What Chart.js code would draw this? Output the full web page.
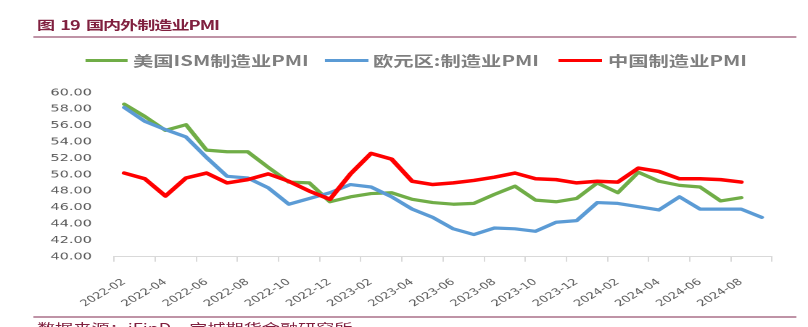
<!DOCTYPE html>
<html lang="zh-CN">
<head>
<meta charset="utf-8">
<title>国内外制造业PMI</title>
<script src="https://cdn.jsdelivr.net/npm/chart.js@4.4.1/dist/chart.umd.min.js"></script>
<style>
  html, body { margin: 0; padding: 0; background: #fff; overflow: hidden; }
  body { width: 808px; height: 327px; position: relative; }
  /* the figure is laid out narrow and widened to the full page width */
  #page { position: absolute; left: 0; top: 0; width: 557px; height: 327px;
          transform: scaleX(1.4506); transform-origin: 0 0; }
  .title { position: absolute; left: 25.5px; top: 16.5px; font: bold 12.5px "Noto Sans CJK SC", sans-serif;
           color: #80203f; letter-spacing: -0.7px; white-space: pre; line-height: 15px; }
  .rule { position: absolute; left: 22.7px; width: 526.7px; height: 2px; background: #bf93a6; }
  .legend { position: absolute; top: 52px; left: 0; width: 557px; height: 16px;
            font: bold 14px "Noto Sans CJK SC", sans-serif; color: #7f7f7f; }
  .legend .swatch { position: absolute; top: 6.5px; height: 3px; }
  .legend .text { position: absolute; top: 0; line-height: 16px; white-space: nowrap; }
  .source { position: absolute; left: 25.5px; top: 321px; font: 12.5px "Noto Sans CJK SC", sans-serif;
            color: #80203f; line-height: 14px; white-space: nowrap; }
  #pmiChart { position: absolute; left: 0; top: 80px; width: 557px; height: 235px; }
</style>
</head>
<body>
<div id="page">
  <div class="title">图  19  国内外制造业PMI</div>
  <div class="rule" style="top:36px"></div>

  <div class="legend">
    <div class="swatch" style="left:59.3px;width:28.9px;background:#70ad47"></div>
    <div class="text" style="left:91.7px">美国ISM制造业PMI</div>
    <div class="swatch" style="left:224px;width:29.7px;background:#5b9bd5"></div>
    <div class="text" style="left:257.1px">欧元区:制造业PMI</div>
    <div class="swatch" style="left:384.7px;width:30.3px;background:#ff0000"></div>
    <div class="text" style="left:419.1px">中国制造业PMI</div>
  </div>

  <canvas id="pmiChart" width="557" height="235"></canvas>

  <div class="rule" style="top:315.5px"></div>
  <div class="source">数据来源：iFinD，宝城期货金融研究所</div>
</div>

<script>
// monthly categories
const months = [
    '2022-02', '2022-03', '2022-04', '2022-05', '2022-06', '2022-07', '2022-08', '2022-09',
    '2022-10', '2022-11', '2022-12', '2023-01', '2023-02', '2023-03', '2023-04', '2023-05',
    '2023-06', '2023-07', '2023-08', '2023-09', '2023-10', '2023-11', '2023-12', '2024-01',
    '2024-02', '2024-03', '2024-04', '2024-05', '2024-06', '2024-07', '2024-08', '2024-09'
];

// 美国ISM制造业PMI
const usIsm = [
    58.6, 57.1, 55.4, 56.1, 53.0, 52.8, 52.8, 50.9, 49.1, 49.0, 46.7, 47.3, 47.7, 47.8, 47.0, 46.6,
    46.4, 46.5, 47.6, 48.6, 46.9, 46.7, 47.1, 49.0, 47.8, 50.3, 49.2, 48.7, 48.5, 46.8, 47.2
];

// 欧元区:制造业PMI
const euroPmi = [
    58.2, 56.5, 55.5, 54.6, 52.1, 49.8, 49.6, 48.4, 46.4, 47.1, 47.8, 48.8, 48.5, 47.3, 45.8, 44.8,
    43.4, 42.7, 43.5, 43.4, 43.1, 44.2, 44.4, 46.6, 46.5, 46.1, 45.7, 47.3, 45.8, 45.8, 45.8, 44.8
];

// 中国制造业PMI
const chinaPmi = [
    50.2, 49.5, 47.4, 49.6, 50.2, 49.0, 49.4, 50.1, 49.2, 48.0, 47.0, 50.1, 52.6, 51.9, 49.2, 48.8,
    49.0, 49.3, 49.7, 50.2, 49.5, 49.4, 49.0, 49.2, 49.1, 50.8, 50.4, 49.5, 49.5, 49.4, 49.1
];

const yMin = 40;
const yMax = 60;
const yStep = 2;

new Chart(document.getElementById('pmiChart'), {
    type: 'line',
    data: {
        labels: months,
        datasets: [
            { label: '美国ISM制造业PMI', data: usIsm, borderColor: '#70ad47', borderWidth: 3.2, order: 3 },
            { label: '欧元区:制造业PMI', data: euroPmi, borderColor: '#5b9bd5', borderWidth: 3.2, order: 2 },
            { label: '中国制造业PMI', data: chinaPmi, borderColor: '#ff0000', borderWidth: 3.5, order: 1 }
        ]
    },
    options: {
        responsive: false,
        animation: false,
        devicePixelRatio: 2,
        layout: { padding: { left: 0, right: 24.8, top: 12.7, bottom: 0 } },
        elements: {
            point: { radius: 0 },
            line: { tension: 0, fill: false, borderJoinStyle: 'round', borderCapStyle: 'round' }
        },
        plugins: {
            legend: { display: false },
            tooltip: { enabled: false }
        },
        scales: {
            x: {
                offset: true,
                grid: {
                    offset: true,
                    drawOnChartArea: false,
                    drawTicks: true,
                    tickLength: 5,
                    // a tick mark every two months
                    tickColor: ctx => (ctx.index === undefined || ctx.index % 2 === 0) ? '#d9d9d9' : 'rgba(0,0,0,0)'
                },
                border: { display: true, color: '#d9d9d9', width: 1 },
                ticks: {
                    autoSkip: false,
                    minRotation: 40,
                    maxRotation: 40,
                    padding: 15,
                    color: '#595959',
                    font: { family: 'DejaVu Sans', size: 9 },
                    callback: (value, index) => index % 2 === 0 ? months[index] : ''
                },
                afterFit: scale => { scale.height = 58.3; }
            },
            y: {
                min: yMin,
                max: yMax,
                // hidden tick marks only set the gap between labels and plot
                grid: { display: false, drawTicks: true, tickLength: 15.2 },
                border: { display: false },
                ticks: {
                    stepSize: yStep,
                    padding: 0,
                    color: '#595959',
                    font: { family: 'DejaVu Sans', size: 10 },
                    callback: value => value.toFixed(2)
                },
                afterFit: scale => { scale.width = 78.6; }
            }
        }
    }
});
</script>
</body>
</html>
